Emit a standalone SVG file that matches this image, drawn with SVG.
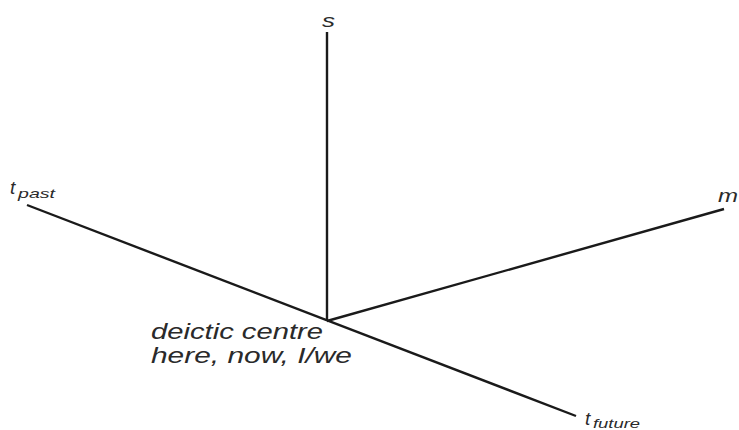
<svg xmlns="http://www.w3.org/2000/svg" width="739" height="430" viewBox="0 0 739 430">
<style>
.ax{stroke:#1a1a1a;stroke-width:2.4;fill:none;stroke-linecap:butt}
text{font-family:"Liberation Sans",Arial,sans-serif;font-style:italic;fill:#2a2a2a}
.lb{font-size:19px}
.sub{font-size:13px}
.c{font-size:22px}
</style>
<rect width="739" height="430" fill="#fff"/>
<g id="connectors">
<line class="ax" x1="327" y1="32" x2="327" y2="321"/>
<line class="ax" x1="27" y1="205" x2="576" y2="416"/>
<line class="ax" x1="327" y1="321" x2="724" y2="209"/>
</g>
<g id="s"><text class="lb" x="322" y="27" textLength="13" lengthAdjust="spacingAndGlyphs">s</text></g>
<g id="tpast">
<text class="lb" x="10" y="194">t</text>
<text class="sub" x="18" y="198" textLength="37" lengthAdjust="spacingAndGlyphs">past</text>
</g>
<g id="m"><text class="lb" x="718" y="202" textLength="20" lengthAdjust="spacingAndGlyphs">m</text></g>
<g id="tfuture">
<text class="lb" x="585" y="425">t</text>
<text class="sub" x="593" y="428" textLength="47" lengthAdjust="spacingAndGlyphs">future</text>
</g>
<g id="centre">
<text class="c" x="151" y="339" textLength="172" lengthAdjust="spacingAndGlyphs">deictic centre</text>
<text class="c" x="151" y="363" textLength="201" lengthAdjust="spacingAndGlyphs">here, now, I/we</text>
</g>
</svg>
